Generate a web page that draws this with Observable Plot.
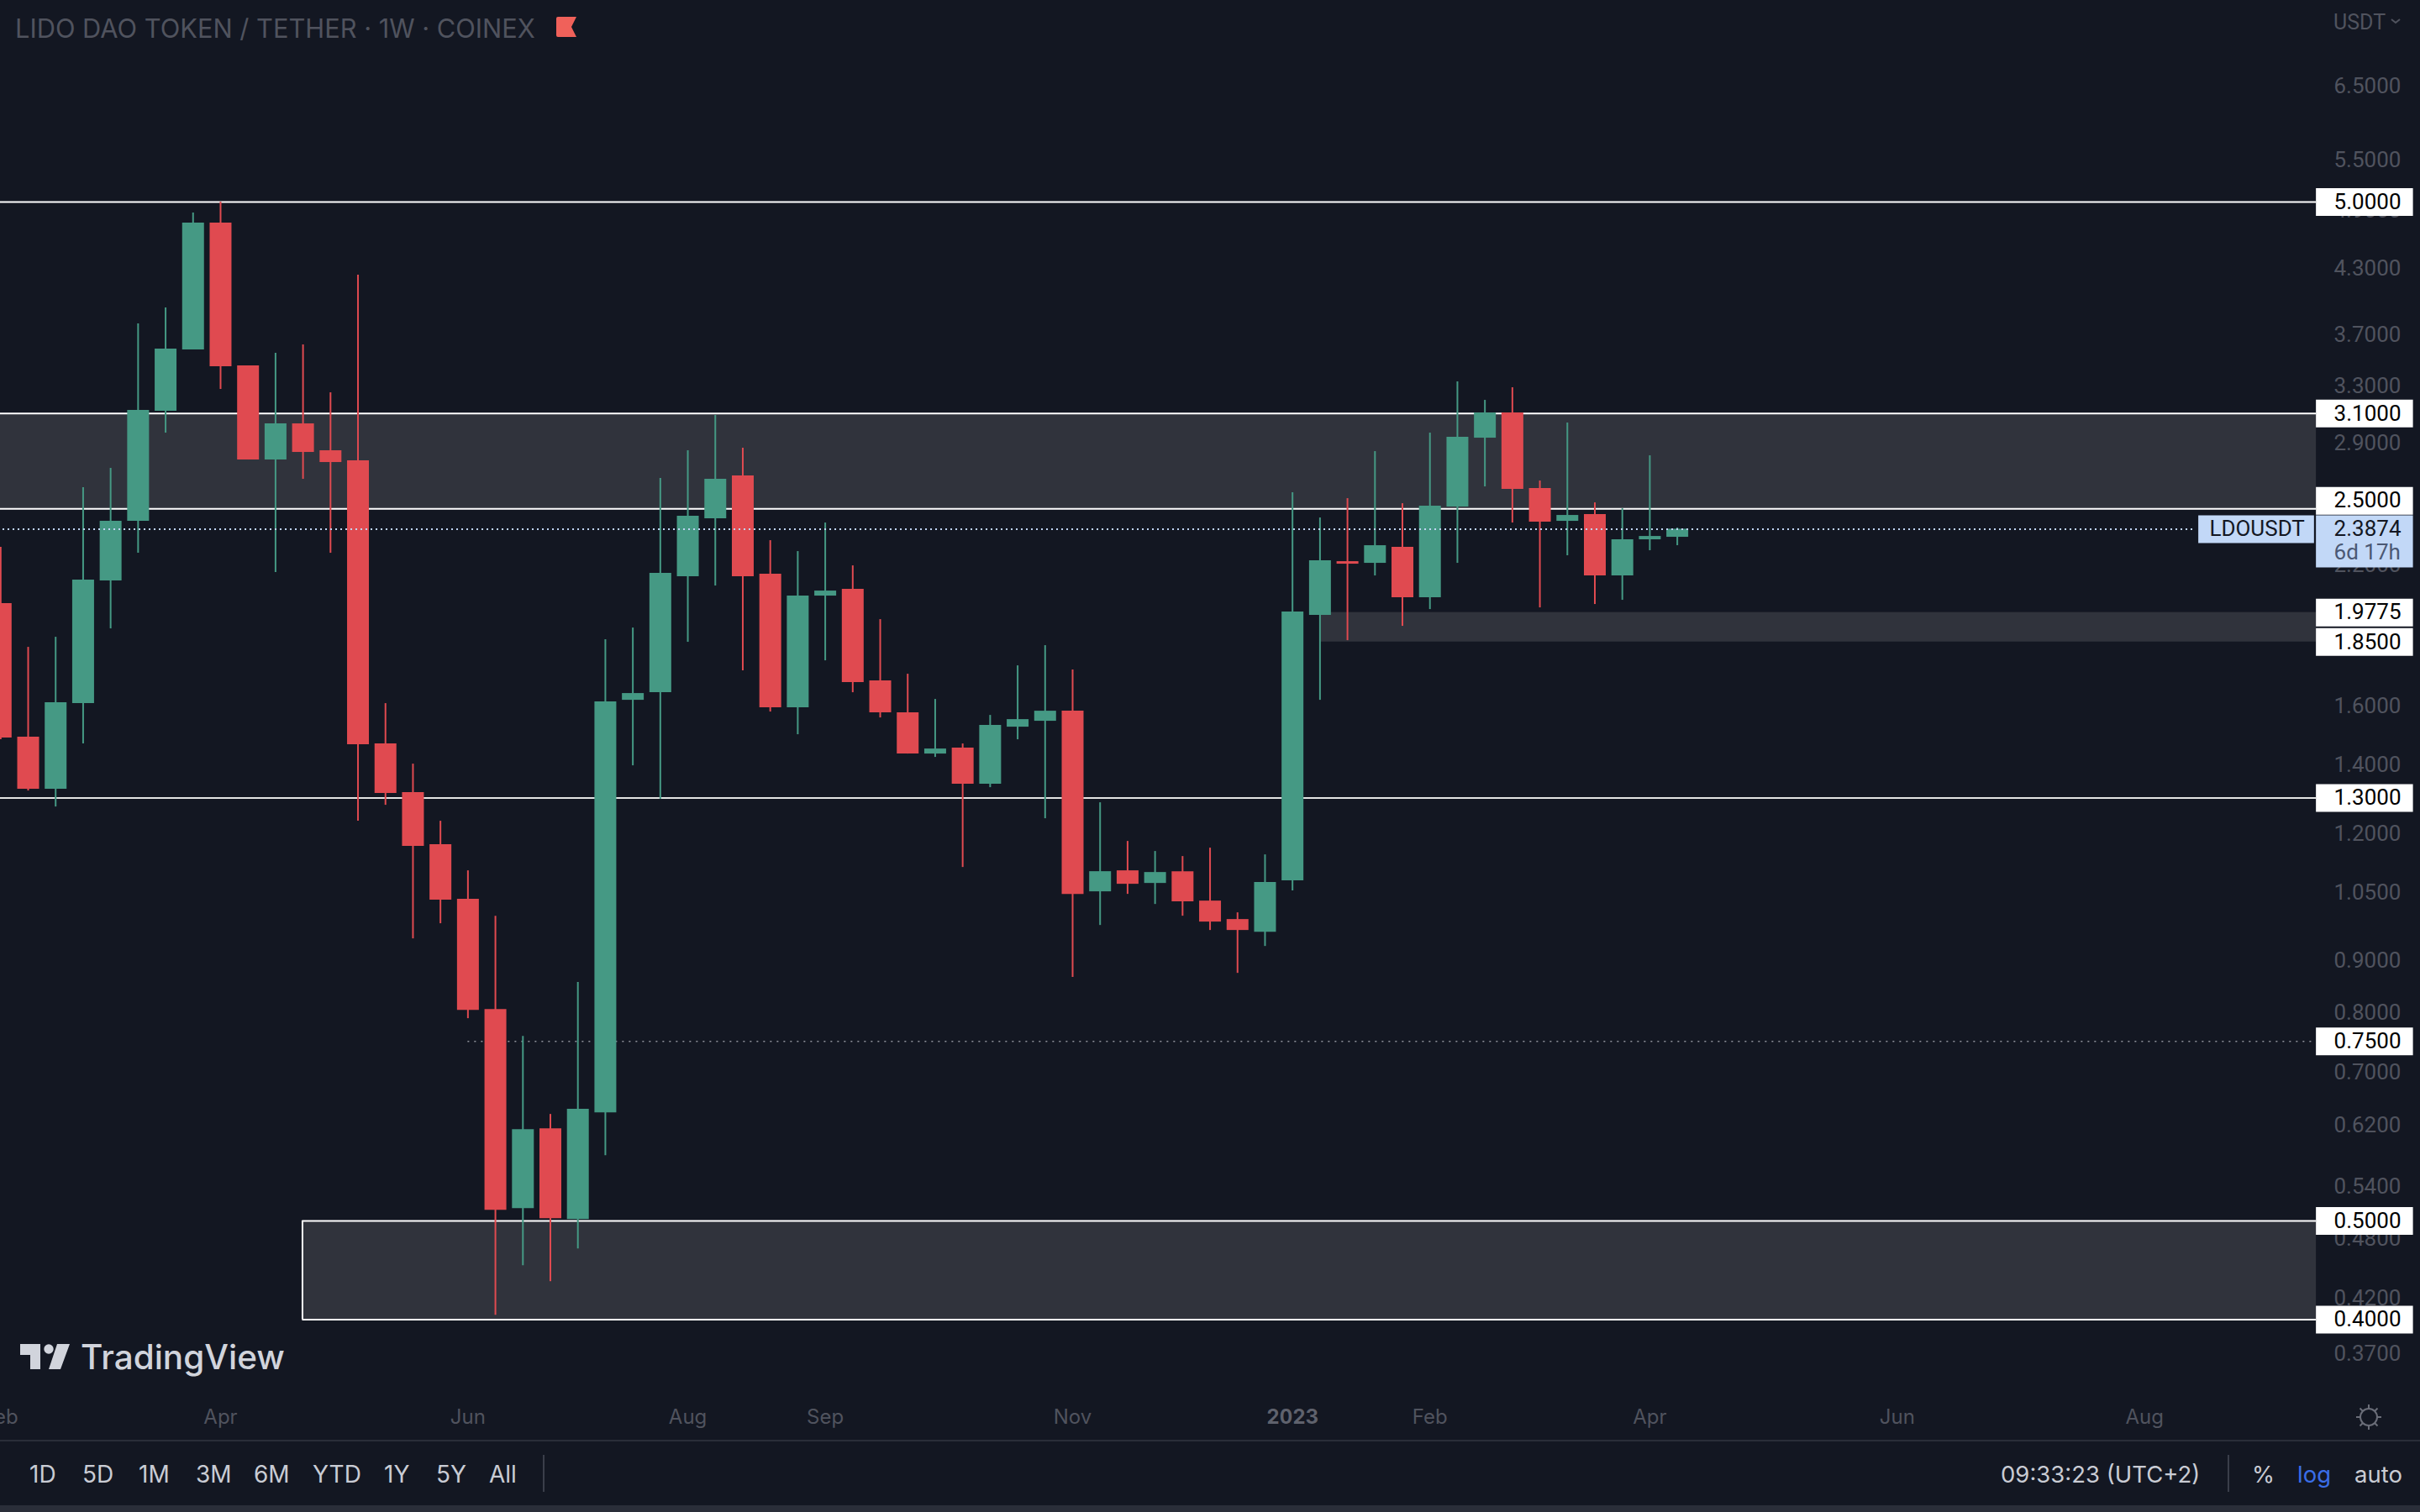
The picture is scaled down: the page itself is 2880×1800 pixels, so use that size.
<!doctype html>
<html><head><meta charset="utf-8">
<script src="https://cdn.jsdelivr.net/npm/d3@7"></script>
<script src="https://cdn.jsdelivr.net/npm/@observablehq/plot@0.6"></script>
<style>
html,body{margin:0;padding:0;background:#131722;overflow:hidden;width:2880px;height:1800px}
#page{position:relative;width:2880px;height:1800px}
#chart svg{display:block}
.ov{position:absolute;white-space:pre;font-family:Inter,sans-serif}
#toolbar{position:absolute;left:0;top:1714px;width:2880px;height:86px;background:#131722;border-top:2px solid #2a2e39;box-sizing:border-box}
#strip{position:absolute;left:0;top:1792px;width:2880px;height:8px;background:#2a2e39}
.tb{position:absolute;top:1737px;font:400 28px/36px Inter,sans-serif;color:#c9ccd4;white-space:pre}
</style></head>
<body><div id="page"><div id="chart"></div></div>
<script>
const opens=[2.0176,1.4919,1.3262,1.6096,2.1237,2.4302,3.1164,3.5797,4.7682,3.4529,2.7915,3.0289,2.8504,2.7862,1.4694,1.3162,1.1700,1.0342,0.8064,
0.5142,0.6159,0.5017,0.6385,1.6218,1.6498,2.1440,2.4441,2.6926,2.1562,1.5944,2.0524,2.0838,1.6942,1.5763,1.4363,1.4555,1.3414,1.5262,
1.5467,1.5823,1.0520,1.1031,1.0721,1.1010,1.0302,0.9881,0.9603,1.0783,1.9647,2.2185,2.2101,2.2913,2.0446,2.5099,2.9327,3.1046,2.6170,
2.4302,2.4674,2.1480,2.3308,2.3441];
const highs=[2.2913,1.8279,1.8700,2.6219,2.7390,3.7967,3.9362,4.8781,5.0000,3.4529,3.5526,3.6207,3.2493,4.2387,1.6096,1.4039,1.2339,1.1031,0.9956,
0.7589,0.6361,0.8570,1.8594,1.9095,2.6773,2.8504,3.0870,2.8666,2.3263,2.2696,2.4210,2.1975,1.9461,1.7202,1.6249,1.4694,1.5673,1.7531,
1.8349,1.7366,1.2865,1.1789,1.1524,1.1393,1.1611,1.0032,1.1436,2.5922,2.4487,2.5580,2.8450,2.5290,2.9663,3.3305,3.1943,3.2866,2.6621,
3.0347,2.5338,2.5004,2.8181,2.3935];
const lows=[1.4834,1.3212,1.2743,1.4694,1.9059,2.2610,2.9663,3.5797,3.2741,2.7915,2.1644,2.6722,2.2610,1.2339,1.2792,0.9459,0.9788,0.7898,0.4040,
0.4519,0.4359,0.4694,0.5796,1.3986,1.2963,1.8489,2.0997,1.7333,1.5793,1.5004,1.7732,1.6498,1.5584,1.4363,1.4254,1.1115,1.3312,1.4834,
1.2409,0.8668,0.9750,1.0460,1.0224,0.9956,0.9640,0.8750,0.9298,1.0540,1.6218,1.8559,2.1480,1.9168,1.9909,2.2101,2.6269,2.4210,1.9985,
2.2482,2.0138,2.0330,2.2739,2.3000];
const closes=[1.4890,1.3262,1.6126,2.1277,2.4302,3.1223,3.5865,4.7682,3.4463,2.7915,3.0289,2.8396,2.7756,1.4666,1.3137,1.1656,1.0322,0.8049,0.5123,
0.6147,0.5026,0.6434,1.6157,1.6467,2.1603,2.4580,2.6722,2.1440,1.5944,2.0524,2.0759,1.6878,1.5763,1.4363,1.4527,1.3414,1.5320,1.5525,
1.5823,1.0460,1.1010,1.0701,1.0989,1.0283,0.9825,0.9640,1.0742,1.9796,2.2227,2.2059,2.3000,2.0446,2.5147,2.9383,3.1046,2.6120,2.4256,
2.4627,2.1480,2.3308,2.3485,2.3874];
const priceTicks=[6.5,5.5,4.9,4.3,3.7,3.3,2.9,2.2,1.6,1.4,1.2,1.05,0.9,0.8,0.7,0.62,0.54,0.48,0.42,0.37];
const monthTickWeeks=[0,8,17,25,30,39,52,60,69,78];
const yearTickWeeks=[47];
const solidLevels=[5,3.1,2.5,1.3];
const boxLevels=[5,3.1,1.9775,1.85,1.3,0.75,0.5,0.4];
const lastPrice=2.3874;

const GREEN="#459984",RED="#e04a50",BG="#131722",BAND="#30333c",TXT="#50535e",LAST="#c2d8f7";
const FONT="Inter, sans-serif",MONO="Roboto, sans-serif";
const t0=Date.UTC(2022,1,7);
const wk=n=>new Date(t0+n*7*864e5);
const candles=opens.map((o,i)=>({t:wk(i),o,h:highs[i],l:lows[i],c:closes[i]}));
const col=d=>d.c>=d.o?GREEN:RED;
const fmt=d=>d.toFixed(4);
const paneStart=wk(-0.1),paneEnd=wk(84.25),axisEnd=wk(87.78),lab=wk(84.89);

const plot=Plot.plot({
  width:2880,height:1714,marginLeft:0,marginRight:124,marginTop:0,marginBottom:54,
  style:{background:BG,fontFamily:FONT,overflow:"hidden"},
  x:{type:"utc",domain:[wk(0),wk(78)],range:[0.3,2551.7]},
  y:{type:"log",domain:[5,0.4],range:[240,1570.5]},
  color:{type:"identity"},
  marks:[
    Plot.rect([{a:3.1,b:2.5,s:paneStart},{a:1.9775,b:1.85,s:wk(48)},{a:0.5,b:0.4,s:wk(10.98)}],{x1:"s",x2:()=>paneEnd,y1:"a",y2:"b",fill:BAND}),
    Plot.ruleY(solidLevels,{x1:paneStart,x2:paneEnd,stroke:d=>d===1.3?"#e4e4e4":"#ffffff",strokeWidth:2}),
    Plot.ruleY([0.5,0.4],{x1:wk(10.98),x2:paneEnd,stroke:"#fff",strokeWidth:2}),
    Plot.ruleX([wk(10.98)],{y1:0.5,y2:0.4,stroke:"#fff",strokeWidth:2}),
    Plot.ruleY([0.75],{x1:wk(17),x2:paneEnd,stroke:"#8f929b",strokeWidth:1.5,strokeDasharray:"2 6"}),
    Plot.ruleX(candles,{x:"t",y1:"l",y2:"h",stroke:col,strokeWidth:2}),
    Plot.ruleX(candles,{x:"t",y1:"o",y2:"c",stroke:col,strokeWidth:26}),
    Plot.ruleY([lastPrice],{x1:paneStart,x2:wk(79.85),stroke:LAST,strokeWidth:2,strokeDasharray:"2 4"}),
    Plot.axisX(monthTickWeeks.map(wk),{anchor:"bottom",tickSize:0,tickPadding:17,tickFormat:d3.utcFormat("%b"),fill:TXT,fontSize:24,label:null,fontFamily:FONT}),
    Plot.axisX(yearTickWeeks.map(wk),{anchor:"bottom",tickSize:0,tickPadding:17,tickFormat:d3.utcFormat("%Y"),fill:"#5f626d",fontSize:24,fontWeight:700,label:null,fontFamily:FONT}),
    Plot.axisY(priceTicks,{anchor:"right",tickSize:0,tickPadding:21,tickFormat:fmt,fill:TXT,fontSize:26,label:null,fontFamily:MONO}),
    Plot.ruleY(boxLevels,{x1:paneEnd,x2:axisEnd,stroke:"#fff",strokeWidth:33}),
    Plot.ruleY([2.5],{x1:paneEnd,x2:axisEnd,stroke:"#fff",strokeWidth:33,dy:-9.5}),
    Plot.ruleY([lastPrice],{x1:paneEnd,x2:axisEnd,stroke:LAST,strokeWidth:62,dy:14.5}),
    Plot.ruleY([lastPrice],{x1:wk(79.97),x2:wk(84.18),stroke:LAST,strokeWidth:33}),
    Plot.text(boxLevels,{x:lab,y:d=>d,text:fmt,fill:"#000",fontSize:26,textAnchor:"start",fontFamily:MONO}),
    Plot.text([2.5],{x:lab,y:d=>d,text:fmt,fill:"#000",fontSize:26,textAnchor:"start",fontFamily:MONO,dy:-9.5}),
    Plot.text([lastPrice],{x:lab,y:d=>d,text:fmt,fill:BG,fontSize:26,textAnchor:"start",fontFamily:MONO}),
    Plot.text([lastPrice],{x:lab,y:d=>d,text:()=>"6d 17h",fill:"#4b5874",fontSize:26,textAnchor:"start",fontFamily:MONO,dy:28}),
    Plot.text([lastPrice],{x:wk(80.36),y:d=>d,text:()=>"LDOUSDT",fill:BG,fontSize:26,textAnchor:"start",fontFamily:MONO})
  ]
});
const page=document.getElementById("page");
document.getElementById("chart").appendChild(plot);
const add=h=>page.insertAdjacentHTML("beforeend",h);
add(`<div class="ov" style="left:18px;top:14px;font-size:30.8px;line-height:40px;color:${TXT}">LIDO DAO TOKEN / TETHER · 1W · COINEX</div>`);
add(`<svg class="ov" style="left:0;top:0" width="2880" height="1800" pointer-events="none">
<path d="M662 22a2 2 0 0 1 2-2H686L680 32L686 44H664a2 2 0 0 1-2-2Z" fill="#f0615a"/>
<path d="M24 1600H48V1630H36V1613H24Z M68 1600H83L72 1630H58Z" fill="#d1d4dc"/><circle cx="58" cy="1606" r="5.7" fill="#d1d4dc"/>
<g fill="none" stroke="#6a6d78" stroke-width="2"><circle cx="2819" cy="1687" r="10"/>
<path d="M2819 1672v5M2819 1697v5M2804 1687h5M2829 1687h5M2808.5 1676.5l3.5 3.5M2826 1694l3.5 3.5M2808.5 1697.5l3.5-3.5M2826 1680l3.5-3.5"/></g>
<g fill="none" stroke="#c9ccd4" stroke-width="2"><path d="M683 1752v-7a5 5 0 0 1 5-5h20a5 5 0 0 1 5 5v18a5 5 0 0 1-5 5h-14M683 1749h30M691 1738v5M705 1738v5M680 1761h15M688 1755l7 6l-7 7"/></g>
</svg>`);
add(`<div class="ov" style="left:96px;top:1593px;font-size:40.5px;line-height:46px;font-weight:500;color:#d1d4dc">TradingView</div>`);
add(`<div class="ov" style="left:2777px;top:14px;font:25px/26px Roboto,sans-serif;color:${TXT}">USDT</div>`);
add(`<svg class="ov" style="left:2844px;top:21px" width="16" height="10"><path d="M2 2l5 4l5-4" fill="none" stroke="${TXT}" stroke-width="2"/></svg>`);
add(`<div id="toolbar"></div><div id="strip"></div>`);
const tools=[["1D",35],["5D",98],["1M",165],["3M",233],["6M",302],["YTD",372],["1Y",457],["5Y",519],["All",582],["09:33:23 (UTC+2)",2381],["%",2680],["log",2734,"#3a6ee8"],["auto",2802]];
for(const [t,x,c] of tools) add(`<span class="tb" style="left:${x}px${c?";color:"+c:""}${x>2000?";font-size:27.5px":""}">${t}</span>`);
add(`<div class="ov" style="left:646px;top:1732px;width:2px;height:44px;background:#3a3e4a"></div><div class="ov" style="left:2651px;top:1732px;width:2px;height:44px;background:#3a3e4a"></div>`);
</script></body></html>
